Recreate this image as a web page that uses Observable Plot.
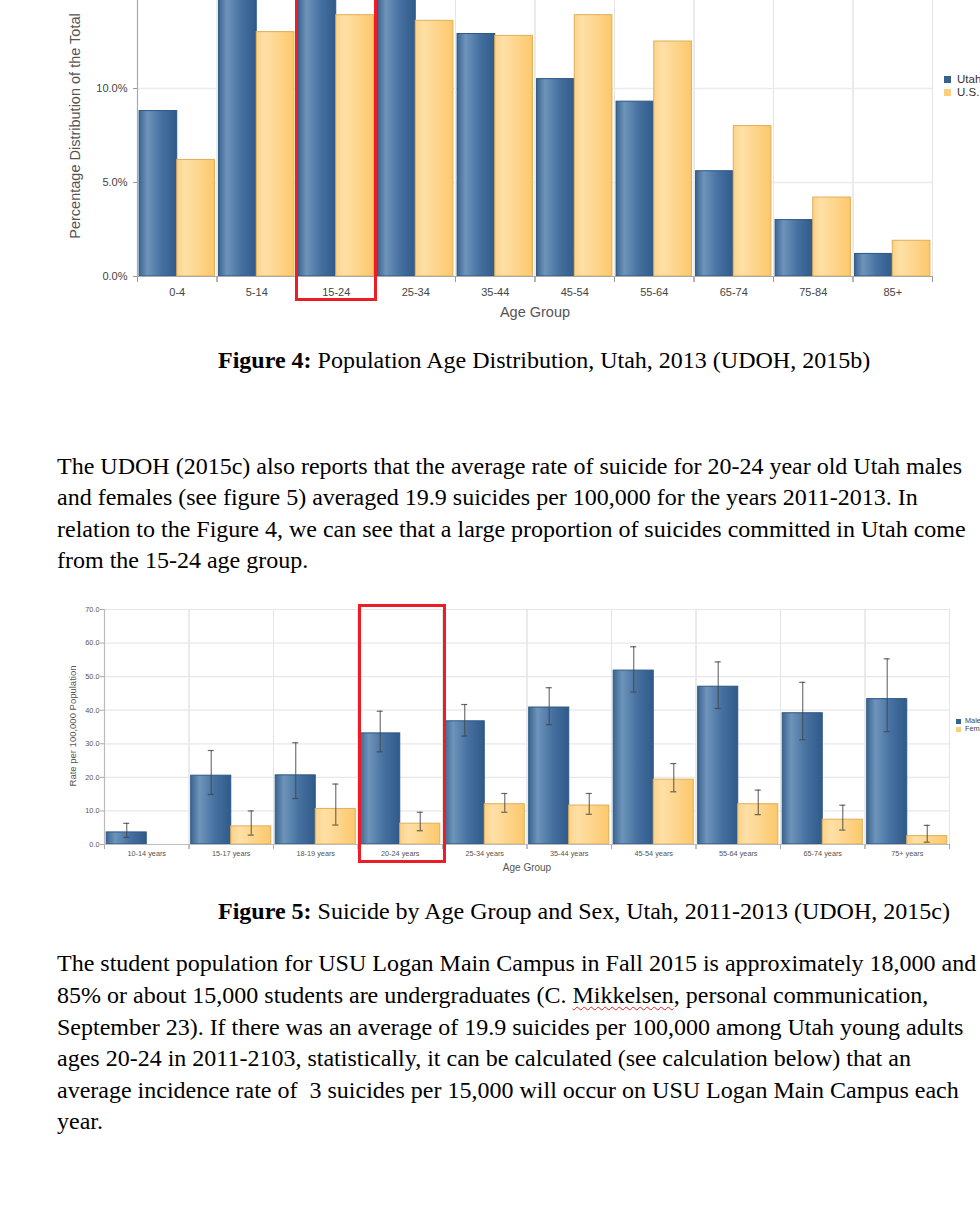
<!DOCTYPE html>
<html>
<head>
<meta charset="utf-8">
<script src="https://cdn.jsdelivr.net/npm/d3@7"></script>
<script src="https://cdn.jsdelivr.net/npm/@observablehq/plot@0.6"></script>
<style>
  html, body { margin: 0; padding: 0; background: #fff; }
  #page { position: relative; width: 980px; height: 1206px; overflow: hidden; background: #fff; }
  .abs { position: absolute; }
  .line { position: absolute; left: 57px; white-space: nowrap; font-family: "Liberation Serif", "Times New Roman", serif; font-size: 24px; line-height: 32px; color: #000; }
  .cap { position: absolute; white-space: nowrap; font-family: "Liberation Serif", "Times New Roman", serif; font-size: 24px; line-height: 32px; color: #000; }
  .sans { font-family: "Liberation Sans", Arial, sans-serif; color: #444; white-space: nowrap; }
  .redbox { position: absolute; box-sizing: border-box; border: 3px solid #ee1c24; }
  .wavy { text-decoration: underline wavy #e0201c; text-decoration-thickness: 1px; text-underline-offset: 3px; }
</style>
</head>
<body>
<div id="page">
  <svg width="0" height="0" style="position:absolute">
    <defs>
      <linearGradient id="gBlue" x1="0" x2="1" y1="0" y2="0">
        <stop offset="0" stop-color="#3b6591"/>
        <stop offset="0.22" stop-color="#6e94ba"/>
        <stop offset="0.6" stop-color="#4570a0"/>
        <stop offset="1" stop-color="#2f5a89"/>
      </linearGradient>
      <linearGradient id="gYellow" x1="0" x2="1" y1="0" y2="0">
        <stop offset="0" stop-color="#fbd38a"/>
        <stop offset="0.22" stop-color="#fee0a6"/>
        <stop offset="1" stop-color="#fcc86c"/>
      </linearGradient>
    </defs>
  </svg>
  <div id="fig4" class="abs" style="left:0; top:-20px;"></div>
  <div id="fig5" class="abs" style="left:0; top:595px;"></div>
</div>
<script>
// ---------- Figure 4 data ----------
const ages4 = ["0-4","5-14","15-24","25-34","35-44","45-54","55-64","65-74","75-84","85+"];
const utah4 = [8.8, 17.6, 17.3, 15.1, 12.9, 10.5, 9.3, 5.6, 3.0, 1.2];
const us4   = [6.2, 13.0, 13.9, 13.6, 12.8, 13.9, 12.5, 8.0, 4.2, 1.9];
const series4 = ["Utah", "U.S."];
const yTicks4 = [0, 5, 10];

// ---------- Figure 5 data ----------
const ages5 = ["10-14 years","15-17 years","18-19 years","20-24 years","25-34 years","35-44 years","45-54 years","55-64 years","65-74 years","75+ years"];
const male5     = [3.6, 20.5, 20.6, 33.1, 36.7, 40.8, 51.8, 47.0, 39.1, 43.3];
const maleLo5   = [2.1, 14.9, 13.7, 27.6, 32.3, 35.7, 45.4, 40.5, 31.2, 33.6];
const maleHi5   = [6.3, 28.0, 30.3, 39.7, 41.7, 46.7, 58.9, 54.4, 48.3, 55.3];
const female5   = [null, 5.4, 10.6, 6.2, 12.0, 11.6, 19.3, 12.0, 7.4, 2.5];
const femaleLo5 = [null, 2.8, 5.8, 4.1, 9.6, 9.0, 15.7, 8.9, 4.3, 0.7];
const femaleHi5 = [null, 10.0, 18.0, 9.6, 15.2, 15.2, 24.1, 16.2, 11.7, 5.7];
const series5 = ["Male", "Female"];
const yTicks5 = [0, 10, 20, 30, 40, 50, 60, 70];

const FONT = "'Liberation Sans', Arial, sans-serif";

// ---------- Figure 4 ----------
{
  const rows = ages4.flatMap((a, i) => [
    {age: a, s: series4[0], v: utah4[i]},
    {age: a, s: series4[1], v: us4[i]}
  ]);
  const innerH = 296;
  const svg = Plot.plot({
    width: 980, height: 350,
    marginTop: 0, marginLeft: 137, marginRight: 48, marginBottom: 54,
    style: {fontFamily: FONT, background: "transparent", overflow: "visible"},
    fx: {domain: ages4, padding: 0, round: false, label: null},
    x: {domain: series4, paddingInner: 0, paddingOuter: 0.055, round: false, axis: null},
    y: {domain: [0, innerH / 18.8], axis: null},
    marks: [
      Plot.frame({stroke: "#e4e4e4"}),
      Plot.gridY({ticks: [5, 10], stroke: "#ebebeb", strokeOpacity: 1, strokeWidth: 1.5}),
      Plot.barY(rows.filter(d => d.s === series4[0]), {fx: "age", x: "s", y: "v", fill: "url(#gBlue)", stroke: "#2c5786", strokeWidth: 1}),
      Plot.barY(rows.filter(d => d.s === series4[1]), {fx: "age", x: "s", y: "v", fill: "url(#gYellow)", stroke: "#e2ae58", strokeWidth: 1}),
      Plot.frame({anchor: "left", stroke: "#999", insetTop: innerH, insetBottom: -5}),
      Plot.frame({anchor: "right", stroke: "#999", insetTop: innerH, insetBottom: -5}),
      Plot.ruleY([0], {stroke: "#aaa", strokeWidth: 1.2}),
      Plot.frame({anchor: "left", facetAnchor: "left", stroke: "#aaa", strokeWidth: 1.2}),
      Plot.axisY({ticks: yTicks4, tickFormat: d => d.toFixed(1) + "%", tickSize: 4, tickPadding: 6, fontSize: 11, fill: "#444", stroke: "#999", label: null}),
      Plot.axisFx({anchor: "bottom", tickSize: 0, tickPadding: 12, fontSize: 11, fill: "#444", label: null})
    ]
  });
  document.getElementById("fig4").appendChild(svg);
}

// ---------- Figure 5 ----------
{
  const rows = ages5.flatMap((a, i) => [
    {age: a, s: series5[0], v: male5[i], lo: maleLo5[i], hi: maleHi5[i]},
    {age: a, s: series5[1], v: female5[i], lo: femaleLo5[i], hi: femaleHi5[i]}
  ]);
  const withErr = rows.filter(d => d.lo != null && d.hi != null);
  const innerH = 235;
  const svg = Plot.plot({
    width: 980, height: 285,
    marginTop: 14, marginLeft: 104, marginRight: 31, marginBottom: 36,
    style: {fontFamily: FONT, background: "transparent", overflow: "visible"},
    fx: {domain: ages5, padding: 0, round: false, label: null},
    x: {domain: series5, paddingInner: 0, paddingOuter: 0.055, round: false, axis: null},
    y: {domain: [0, 70], axis: null},
    marks: [
      Plot.frame({stroke: "#e4e4e4"}),
      Plot.gridY({ticks: yTicks5, stroke: "#e8e8e8", strokeOpacity: 1, strokeWidth: 1.2}),
      Plot.barY(rows.filter(d => d.s === series5[0] && d.v != null), {fx: "age", x: "s", y: "v", fill: "url(#gBlue)", stroke: "#2c5786", strokeWidth: 1}),
      Plot.barY(rows.filter(d => d.s === series5[1] && d.v != null), {fx: "age", x: "s", y: "v", fill: "url(#gYellow)", stroke: "#e2ae58", strokeWidth: 1}),
      Plot.ruleX(withErr, {fx: "age", x: "s", y1: "lo", y2: "hi", stroke: "#444", strokeOpacity: 0.75, strokeWidth: 1.2}),
      Plot.tickY(withErr, {fx: "age", x: "s", y: "hi", stroke: "#444", strokeOpacity: 0.8, strokeWidth: 1.2, insetLeft: 17, insetRight: 17}),
      Plot.tickY(withErr, {fx: "age", x: "s", y: "lo", stroke: "#444", strokeOpacity: 0.8, strokeWidth: 1.2, insetLeft: 17, insetRight: 17}),
      Plot.frame({anchor: "left", stroke: "#aaa", insetTop: innerH, insetBottom: -4}),
      Plot.frame({anchor: "right", stroke: "#aaa", insetTop: innerH, insetBottom: -4}),
      Plot.ruleY([0], {stroke: "#bbb", strokeWidth: 1.2}),
      Plot.frame({anchor: "left", facetAnchor: "left", stroke: "#bbb", strokeWidth: 1.2}),
      Plot.axisY({ticks: yTicks5, tickFormat: d => d.toFixed(1), tickSize: 4, tickPadding: 1, fontSize: 7.3, fill: "#555", stroke: "#aaa", label: null}),
      Plot.axisFx({anchor: "bottom", tickSize: 0, tickPadding: 6, fontSize: 7.3, fill: "#555", label: null})
    ]
  });
  document.getElementById("fig5").appendChild(svg);
}

// ---------- Text, titles, legends, annotations ----------
const page = document.getElementById("page");
function add(html) { page.insertAdjacentHTML("beforeend", html); }

// Figure 4 axis titles & legend
add(`<div class="sans abs" style="left:75px; top:126px; font-size:14.5px; color:#555; transform:translate(-50%,-50%) rotate(-90deg);">Percentage Distribution of the Total</div>`);
add(`<div class="sans abs" style="left:535px; top:312px; font-size:14.5px; color:#555; transform:translate(-50%,-50%);">Age Group</div>`);
add(`<div class="abs" style="left:944px; top:76px; width:7px; height:7px; background:#36628f;"></div>`);
add(`<div class="sans abs" style="left:957px; top:72px; font-size:11.5px; line-height:14px; color:#333;">Utah</div>`);
add(`<div class="abs" style="left:944px; top:89px; width:7px; height:7px; background:#fdcf7c;"></div>`);
add(`<div class="sans abs" style="left:957px; top:85px; font-size:11.5px; line-height:14px; color:#333;">U.S.</div>`);

// Figure 5 axis titles & legend
add(`<div class="sans abs" style="left:72px; top:726px; font-size:9.5px; color:#555; transform:translate(-50%,-50%) rotate(-90deg);">Rate per 100,000 Population</div>`);
add(`<div class="sans abs" style="left:527px; top:867px; font-size:10px; color:#555; transform:translate(-50%,-50%);">Age Group</div>`);
add(`<div class="abs" style="left:956px; top:719px; width:5px; height:5px; background:#36628f;"></div>`);
add(`<div class="sans abs" style="left:965px; top:716px; font-size:7.3px; line-height:10px; color:#444;">Male</div>`);
add(`<div class="abs" style="left:956px; top:727px; width:5px; height:5px; background:#fdcf7c;"></div>`);
add(`<div class="sans abs" style="left:965px; top:724px; font-size:7.3px; line-height:10px; color:#444;">Female</div>`);

// Red highlight boxes
add(`<div class="redbox" style="left:295px; top:-10px; width:82px; height:311px;"></div>`);
add(`<div class="redbox" style="left:358px; top:604px; width:88px; height:259px;"></div>`);

// Captions
add(`<div class="cap" style="left:218px; top:344px;"><b>Figure 4:</b> Population Age Distribution, Utah, 2013 (UDOH, 2015b)</div>`);
add(`<div class="cap" style="left:218px; top:895px;"><b>Figure 5:</b> Suicide by Age Group and Sex, Utah, 2011-2013 (UDOH, 2015c)</div>`);

// Paragraph 1
const para1 = [
  "The UDOH (2015c) also reports that the average rate of suicide for 20-24 year old Utah males",
  "and females (see figure 5) averaged 19.9 suicides per 100,000 for the years 2011-2013. In",
  "relation to the Figure 4, we can see that a large proportion of suicides committed in Utah come",
  "from the 15-24 age group."
];
const para1Centers = [466, 497, 529, 560];
para1.forEach((t, i) => add(`<div class="line" style="top:${para1Centers[i] - 16}px;">${t}</div>`));

// Paragraph 2
const para2 = [
  "The student population for USU Logan Main Campus in Fall 2015 is approximately 18,000 and",
  "85% or about 15,000 students are undergraduates (C. <span class=\"wavy\">Mikkelsen</span>, personal communication,",
  "September 23). If there was an average of 19.9 suicides per 100,000 among Utah young adults",
  "ages 20-24 in 2011-2103, statistically, it can be calculated (see calculation below) that an",
  "average incidence rate of &nbsp;3 suicides per 15,000 will occur on USU Logan Main Campus each",
  "year."
];
const para2Centers = [963, 995, 1027, 1058, 1090, 1121];
para2.forEach((t, i) => add(`<div class="line" style="top:${para2Centers[i] - 16}px;">${t}</div>`));
</script>
</body>
</html>
